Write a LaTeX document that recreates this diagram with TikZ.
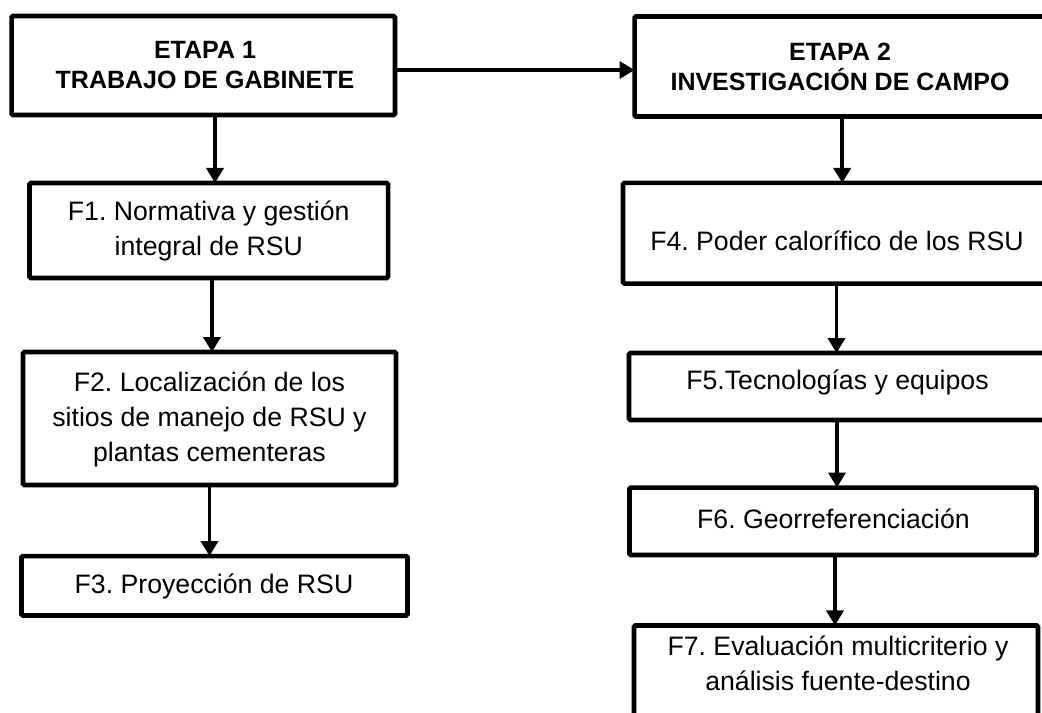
\documentclass[tikz,border=0pt]{standalone}
\usepackage{fontspec}
\setmainfont{Liberation Sans}
\usetikzlibrary{arrows.meta}
\frenchspacing
\begin{document}
\begin{tikzpicture}[x=0.75pt,y=-0.75pt,
  box/.style={draw=black,line width=3.4pt,rounded corners=1pt,fill=white,inner sep=0pt,outer sep=0pt,minimum width=#1},
  txt/.style={inner sep=0pt,align=center,font=\fontsize{20}{26.25}\selectfont\frenchspacing},
  btxt/.style={inner sep=0pt,align=center,font=\fontsize{18.75}{22.5}\selectfont\bfseries\frenchspacing},
  arr/.style={line width=2.7pt,-{Triangle[length=11.25pt,width=12.75pt]}}]
\useasboundingbox (0,0) rectangle (1042,713);
% boxes
\node[box=287.6pt,minimum height=74.25pt] (e1) at (203.25,65.5) {};
\node[box=311.6pt,minimum height=75pt] (e2) at (842.25,66.5) {};
\node[box=268.9pt,minimum height=71.25pt] (f1) at (208.75,230.5) {};
\node[box=279.75pt,minimum height=99.75pt] (f2) at (209.5,418.5) {};
\node[box=289.5pt,minimum height=44.6pt] (f3) at (214.5,585.75) {};
\node[box=320.25pt,minimum height=75.4pt] (f4) at (836.5,233.25) {};
\node[box=315.75pt,minimum height=50.25pt] (f5) at (839.5,386.5) {};
\node[box=305.25pt,minimum height=50.6pt] (f6) at (833,521.25) {};
\node[box=303pt,minimum height=100.9pt] (f7) at (836,692.75) {};
% texts
\node[btxt] (e1t) at (205,65) {ETAPA 1\\TRABAJO DE GABINETE};
\node[btxt] (e2t) at (840,66.5) {ETAPA 2\\INVESTIGACIÓN DE CAMPO};
\node[txt] (f1t) at (208.75,231.3) {F1. Normativa y gestión\\integral de RSU};
\node[txt] (f2t) at (209.5,419) {F2. Localización de los\\sitios de manejo de RSU y\\plantas cementeras};
\node[txt] (f3t) at (214,586.3) {F3. Proyección de RSU};
\node[txt] (f4t) at (837,240.5) {F4. Poder calorífico de los RSU};
\node[txt] (f5t) at (837.5,382.5) {F5.Tecnologías y equipos};
\node[txt] (f6t) at (833.5,518.5) {F6. Georreferenciación};
\node[txt] (f7t) at (838,663.5) {F7. Evaluación multicriterio y\\análisis fuente-destino};
% connectors
\draw[arr] ([yshift=-3.4pt]e1.east) -- ([yshift=-3.4pt]e1.east -| e2.west);
\draw[arr] ([xshift=8.8pt]e1.south) -- ([xshift=8.8pt]e1.south |- f1.north);
\draw[arr] ([xshift=2.4pt]f1.south) -- ([xshift=2.4pt]f1.south |- f2.north);
\draw[arr] (f2.south) -- (f2.south |- f3.north);
\draw[arr] (e2.south) -- (e2.south |- f4.north);
\draw[arr] (f4.south) -- (f4.south |- f5.north);
\draw[arr] ([xshift=-1.9pt]f5.south) -- ([xshift=-1.9pt]f5.south |- f6.north);
\draw[arr] ([xshift=1.5pt]f6.south) -- ([xshift=1.5pt]f6.south |- f7.north);
\end{tikzpicture}
\end{document}
